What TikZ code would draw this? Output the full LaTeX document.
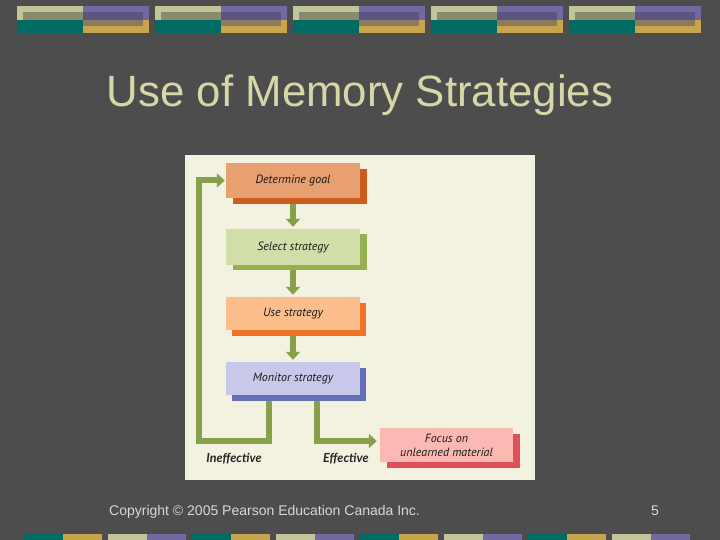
\documentclass[tikz,border=0pt]{standalone}
\usepackage{fontspec}
\setmainfont{Liberation Sans}
\newfontfamily\boxfont{PT Sans}
\newfontfamily\labelfont{Lato}
\usetikzlibrary{arrows.meta,shadows}
\definecolor{bg}{HTML}{4D4D4D}
\definecolor{khaki}{HTML}{C3C49A}
\definecolor{khakiin}{HTML}{8A8A6E}
\definecolor{teal}{HTML}{006B62}
\definecolor{purp}{HTML}{706AA0}
\definecolor{purpin}{HTML}{5A5680}
\definecolor{gold}{HTML}{C8A44C}
\definecolor{goldin}{HTML}{8C7A5C}
\definecolor{titlecol}{HTML}{D6D6A8}
\definecolor{footcol}{HTML}{D8D8D8}
\definecolor{panel}{HTML}{F3F1DF}
\definecolor{arrowgreen}{HTML}{87A04B}
\definecolor{dgmain}{HTML}{E9A070}
\definecolor{dgshad}{HTML}{CC5C1E}
\definecolor{ssmain}{HTML}{D2DEAA}
\definecolor{ssshad}{HTML}{96AF50}
\definecolor{usmain}{HTML}{FCBE8C}
\definecolor{usshad}{HTML}{F07328}
\definecolor{msmain}{HTML}{C8C8EB}
\definecolor{msshad}{HTML}{6670B8}
\definecolor{fomain}{HTML}{FCB9B4}
\definecolor{foshad}{HTML}{E0505A}
\tikzset{
  stagebox/.style={minimum width=134pt, minimum height=34pt, inner sep=0pt,
    font=\boxfont\itshape\fontsize{12}{14}\selectfont, text=black!90, align=center},
  flow/.style={draw=arrowgreen, line width=6pt, -{Triangle[width=14pt,length=8pt]}},
  branchlabel/.style={font=\labelfont\bfseries\itshape\fontsize{12.5}{14}\selectfont, text=black!85, anchor=base}
}
\begin{document}
\begin{tikzpicture}[x=1pt,y=-1pt]
\fill[bg] (0,0) rectangle (720,540);
\useasboundingbox (0,0) rectangle (720,540);
% top decorative bar
\foreach \i in {0,...,4}{
  \pgfmathsetmacro{\xo}{17+138*\i}
  \fill[khaki] (\xo,6) rectangle ++(66,14);
  \fill[khakiin] (\xo+6,12) rectangle (\xo+66,20);
  \fill[teal] (\xo,20) rectangle ++(66,13);
  \fill[purp] (\xo+66,6) rectangle ++(66,14);
  \fill[purpin] (\xo+66,12) rectangle (\xo+126,20);
  \fill[gold] (\xo+66,20) rectangle ++(66,13);
  \fill[goldin] (\xo+66,20) rectangle (\xo+126,26);
}
% bottom decorative bar
\foreach \j in {0,...,7}{
  \pgfmathsetmacro{\xo}{24+84*\j}
  \pgfmathtruncatemacro{\parity}{mod(\j,2)}
  \ifnum\parity=0
    \fill[teal] (\xo,534) rectangle ++(39,6);
    \fill[gold] (\xo+39,534) rectangle ++(39,6);
  \else
    \fill[khaki] (\xo,534) rectangle ++(39,6);
    \fill[purp] (\xo+39,534) rectangle ++(39,6);
  \fi
}
% title
\node[anchor=base, text=titlecol, font=\fontsize{43.8}{48}\selectfont, inner sep=0pt] (title) at (360,107) {Use of Memory Strategies};
% panel
\fill[panel] (185,155) rectangle (535,480);
% boxes
\node[stagebox, fill=dgmain, minimum height=35pt, drop shadow={shadow xshift=7pt, shadow yshift=-6pt, fill=dgshad, opacity=1}] (d) at (293,180.5) {Determine goal};
\node[stagebox, fill=ssmain, minimum height=36pt, drop shadow={shadow xshift=7pt, shadow yshift=-5pt, fill=ssshad, opacity=1}] (s) at (293,247) {Select strategy};
\node[stagebox, fill=usmain, minimum height=33pt, drop shadow={shadow xshift=6pt, shadow yshift=-6pt, fill=usshad, opacity=1}] (u) at (293,313.5) {Use strategy};
\node[stagebox, fill=msmain, minimum height=33pt, drop shadow={shadow xshift=6pt, shadow yshift=-6pt, fill=msshad, opacity=1}] (m) at (293,378.5) {Monitor strategy};
\node[stagebox, fill=fomain, minimum width=133pt, drop shadow={shadow xshift=7pt, shadow yshift=-6pt, fill=foshad, opacity=1}] (f) at (446.5,445) {Focus on\\unlearned material};
% helper coordinates
\coordinate (ds) at ([yshift=-6pt]d.south);
\coordinate (ss) at ([yshift=-5pt]s.south);
\coordinate (us) at ([yshift=-6pt]u.south);
\coordinate (ms) at ([yshift=-6pt]m.south);
\coordinate (ix) at (268.5,0);
\coordinate (ex) at (316.5,0);
\coordinate (lx) at (199,0);
\coordinate (by) at (0,441);
\coordinate (fw) at ([xshift=-3pt]f.west);
\coordinate (dw) at ([xshift=-1pt]d.west);
% connectors
\draw[flow] (ds) -- ([yshift=2pt]s.north);
\draw[flow] (ss) -- ([yshift=2pt]u.north);
\draw[flow] (us) -- ([yshift=2pt]m.north);
\draw[flow] (ms -| ix) -- (ix |- by) -- (lx |- by) -- (lx |- d.west) -- (dw);
\draw[flow] (ms -| ex) -- (ex |- by) -- (fw |- by);
% branch labels
\node[branchlabel] (ineff) at (234,462) {Ineffective};
\node[branchlabel] (eff) at (346,462) {Effective};
% footer
\node[anchor=base west, text=footcol, font=\fontsize{14}{16}\selectfont, inner sep=0pt] (copy) at (109,515) {Copyright © 2005 Pearson Education Canada Inc.};
\node[anchor=base, text=footcol, font=\fontsize{14}{16}\selectfont, inner sep=0pt] (pnum) at (655,515) {5};
\end{tikzpicture}
\end{document}
